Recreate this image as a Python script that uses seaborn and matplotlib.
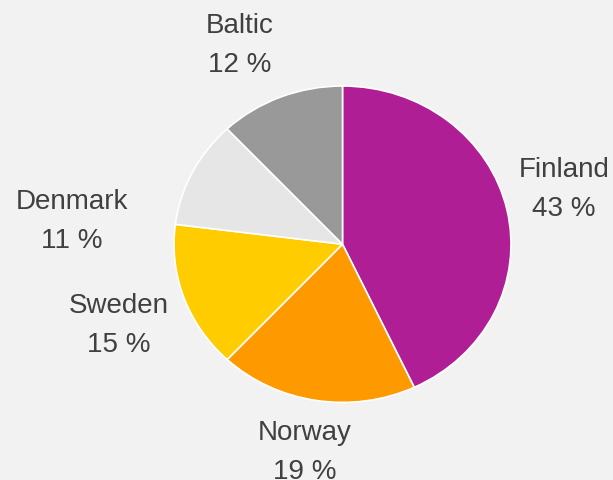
import numpy as np
import pandas as pd
import seaborn as sns
import matplotlib
matplotlib.use("Agg")
import matplotlib.pyplot as plt

# data
regions = ["Finland", "Norway", "Sweden", "Denmark", "Baltic"]
shares = [43, 19, 15, 11, 12]
colors = ["#B01E96", "#FF9900", "#FFCC00", "#E6E6E6", "#999999"]

# label anchors (pixel x centre, baseline of first line)
label_pos = {"Finland": (564, 177), "Norway": (305, 440), "Sweden": (119, 313),
             "Denmark": (72, 209), "Baltic": (240, 33)}

df = pd.DataFrame({"Region": regions, "Share": shares})

sns.set_theme(style="white")
plt.rcParams['font.family'] = ['Liberation Sans', 'DejaVu Sans']

W, H = 613, 481
fig = plt.figure(figsize=(W / 100, H / 100), dpi=100)
fig.patch.set_facecolor("#F2F2F2")
ax = fig.add_axes([0, 0, 1, 1])
ax.set_facecolor("#F2F2F2")

ax.pie(df["Share"], colors=colors, startangle=90, counterclock=False,
       wedgeprops=dict(edgecolor="white", linewidth=1.2))

# pie is a bit wider than tall in the original
cx, cy, rx, ry = 342.5, 245.2, 168.5, 158.2
ax.set_aspect("auto")
ax.set_xlim(-cx / rx, (W - cx) / rx)
ax.set_ylim(-(H - cy) / ry, cy / ry)
ax.axis("off")

for name, val in zip(df["Region"], df["Share"]):
    x, y = label_pos[name]
    fig.text(x / W, 1 - y / H, name, ha="center", va="baseline",
             fontsize=20, color="#404040")
    fig.text(x / W, 1 - (y + 39.5) / H, f"{val} %", ha="center", va="baseline",
             fontsize=20, color="#404040")

plt.savefig("out.png", dpi=100, facecolor=fig.get_facecolor())
